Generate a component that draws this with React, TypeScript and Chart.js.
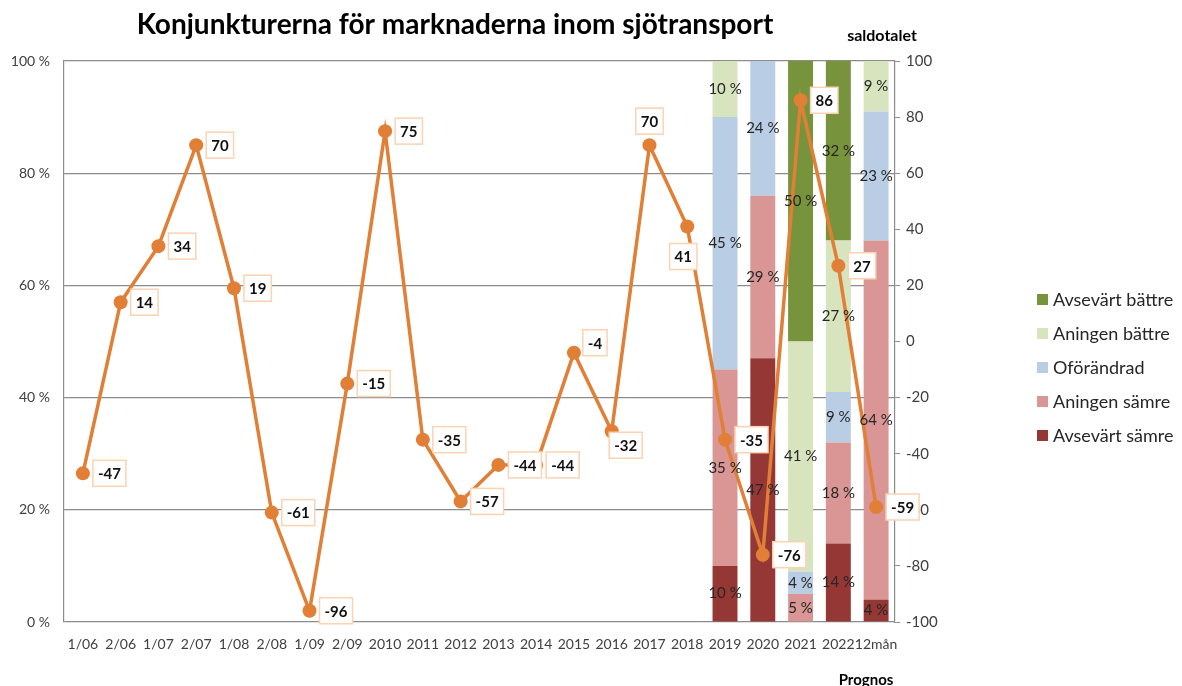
import { useEffect, useRef } from 'react';
import { Chart, registerables } from 'chart.js';
Chart.register(...registerables);

const categories = ['1/06', '2/06', '1/07', '2/07', '1/08', '2/08', '1/09', '2/09', '2010', '2011', '2012', '2013', '2014', '2015', '2016', '2017', '2018', '2019', '2020', '2021', '2022', '12mån'];
const saldotalet = [-47, 14, 34, 70, 19, -61, -96, -15, 75, -35, -57, -44, -44, -4, -32, 70, 41, -35, -76, 86, 27, -59];
const E = [null, null, null, null, null, null, null, null, null, null, null, null, null, null, null, null, null];
const avsevartSamre = [...E, 10, 47, 0, 14, 4];
const aningenSamre = [...E, 35, 29, 5, 18, 64];
const oforandrad = [...E, 45, 24, 4, 9, 23];
const aningenBattre = [...E, 10, 0, 41, 27, 9];
const avsevartBattre = [...E, 0, 0, 50, 32, 0];
const leftTicks = [0, 20, 40, 60, 80, 100];

const FONT = 'Lato, "Noto Sans", sans-serif';
const ORANGE = '#E07F35';
const COLORS = {
  avsevartBattre: '#77933C',
  aningenBattre: '#D7E4BD',
  oforandrad: '#B9CDE5',
  aningenSamre: '#D99694',
  avsevartSamre: '#953735',
};

// label placement (dx, dy of box centre relative to point), by category
function labelOffset(cat: string, w: number): [number, number] {
  switch (cat) {
    case '2017': return [0, -24];
    case '2018': return [-4, 30];
    case '2015': return [21, -10];
    case '2016': return [14, 14];
    default: return [10 + w / 2, 0];
  }
}

const barLabelPlugin = {
  id: 'barLabels',
  afterDatasetsDraw(chart: any) {
    const ctx = chart.ctx;
    ctx.save();
    ctx.font = `15px ${FONT}`;
    ctx.fillStyle = '#262626';
    ctx.textAlign = 'center';
    ctx.textBaseline = 'middle';
    chart.data.datasets.forEach((ds: any, di: number) => {
      if (ds.type !== 'bar') return;
      const meta = chart.getDatasetMeta(di);
      meta.data.forEach((el: any, i: number) => {
        const v = ds.data[i];
        if (v == null || v === 0) return;
        const cy = (el.y + el.base) / 2;
        ctx.fillText(`${v} %`, el.x, cy);
      });
    });
    ctx.restore();
  },
};

const lineLabelPlugin = {
  id: 'lineLabels',
  afterDraw(chart: any) {
    const ctx = chart.ctx;
    const di = chart.data.datasets.findIndex((d: any) => d.type === 'line');
    const meta = chart.getDatasetMeta(di);
    ctx.save();
    ctx.font = `bold 15px ${FONT}`;
    ctx.textAlign = 'center';
    ctx.textBaseline = 'middle';
    meta.data.forEach((pt: any, i: number) => {
      const txt = String(saldotalet[i]);
      const w = ctx.measureText(txt).width + 10;
      const h = 26;
      const [dx, dy] = labelOffset(categories[i], w);
      const cx = pt.x + dx;
      const cy = pt.y + dy;
      ctx.fillStyle = '#FFFFFF';
      ctx.fillRect(cx - w / 2, cy - h / 2, w, h);
      ctx.strokeStyle = '#FBD3B3';
      ctx.lineWidth = 1.5;
      ctx.strokeRect(cx - w / 2, cy - h / 2, w, h);
      ctx.fillStyle = '#111111';
      ctx.fillText(txt, cx, cy + 1);
    });
    ctx.restore();
  },
};

const decorPlugin = {
  id: 'decor',
  afterDraw(chart: any) {
    const ctx = chart.ctx;
    ctx.save();
    ctx.fillStyle = '#000000';
    ctx.textAlign = 'center';
    ctx.textBaseline = 'middle';
    ctx.font = `bold 28px ${FONT}`;
    ctx.fillText('Konjunkturerna för marknaderna inom sjötransport', 455, 25);
    ctx.font = `bold 16px ${FONT}`;
    ctx.fillText('saldotalet', 882, 36);
    ctx.font = `bold 15px ${FONT}`;
    ctx.fillText('Prognos', 866, 680);
    // legend
    const items = [
      ['Avsevärt bättre', COLORS.avsevartBattre],
      ['Aningen bättre', COLORS.aningenBattre],
      ['Oförändrad', COLORS.oforandrad],
      ['Aningen sämre', COLORS.aningenSamre],
      ['Avsevärt sämre', COLORS.avsevartSamre],
    ];
    ctx.textAlign = 'left';
    ctx.font = `18px ${FONT}`;
    items.forEach(([label, color], i) => {
      const y = 300 + i * 34;
      ctx.fillStyle = color;
      ctx.fillRect(1037, y - 6, 11, 11);
      ctx.fillStyle = '#262626';
      ctx.fillText(label, 1053, y);
    });
    ctx.restore();
  },
};

export default function App() {
  const ref = useRef<HTMLCanvasElement>(null);
  useEffect(() => {
    if (!ref.current) return;
    const barDs = (label: string, data: any[], color: string) => ({
      type: 'bar' as const,
      label,
      data,
      backgroundColor: color,
      yAxisID: 'y',
      stack: 's',
      order: 1,
      barPercentage: 0.66,
      categoryPercentage: 1,
    });
    const chart = new Chart(ref.current, {
      data: {
        labels: categories,
        datasets: [
          {
            type: 'line',
            label: 'saldotalet',
            data: saldotalet,
            yAxisID: 'y2',
            borderColor: ORANGE,
            backgroundColor: ORANGE,
            borderWidth: 3.5,
            pointRadius: 7,
            pointBackgroundColor: ORANGE,
            pointBorderWidth: 0,
            tension: 0,
            order: 0,
          } as any,
          barDs('Avsevärt sämre', avsevartSamre, COLORS.avsevartSamre),
          barDs('Aningen sämre', aningenSamre, COLORS.aningenSamre),
          barDs('Oförändrad', oforandrad, COLORS.oforandrad),
          barDs('Aningen bättre', aningenBattre, COLORS.aningenBattre),
          barDs('Avsevärt bättre', avsevartBattre, COLORS.avsevartBattre),
        ],
      },
      options: {
        responsive: false,
        animation: false,
        layout: { padding: { left: 0, right: 227, top: 61, bottom: 24 } },
        plugins: { legend: { display: false }, tooltip: { enabled: false }, title: { display: false } },
        scales: {
          x: {
            stacked: true,
            grid: { display: false },
            border: { display: false },
            ticks: { autoSkip: false, maxRotation: 0, minRotation: 0, padding: 6, color: '#404040', font: { family: FONT, size: 14 } },
            afterFit: (s: any) => { s.height = 40; },
          },
          y: {
            stacked: true,
            position: 'left',
            min: 0,
            max: 100,
            afterBuildTicks: (s: any) => { s.ticks = leftTicks.map((v) => ({ value: v })); },
            grid: { color: '#8C8C8C', lineWidth: 1.2, drawTicks: false },
            border: { color: '#8C8C8C', width: 1.2 },
            ticks: { padding: 14, color: '#404040', font: { family: FONT, size: 14 }, callback: (v: any) => `${v} %` },
            afterFit: (s: any) => { s.width = 64; },
          },
          y2: {
            position: 'right',
            min: -100,
            max: 100,
            ticks: { stepSize: 20, padding: 6, color: '#404040', font: { family: FONT, size: 15 } },
            grid: { drawOnChartArea: false, color: '#8C8C8C', tickLength: 5 },
            border: { color: '#8C8C8C', width: 1.2 },
            afterFit: (s: any) => { s.width = 60; },
          },
        },
      } as any,
      plugins: [barLabelPlugin, lineLabelPlugin, decorPlugin],
    });
    return () => chart.destroy();
  }, []);
  return (
    <div style={{ position: 'fixed', left: 0, top: 0, width: 1182, height: 686, background: '#fff' }}>
      <canvas ref={ref} width={1182} height={686} style={{ display: 'block' }} />
    </div>
  );
}
